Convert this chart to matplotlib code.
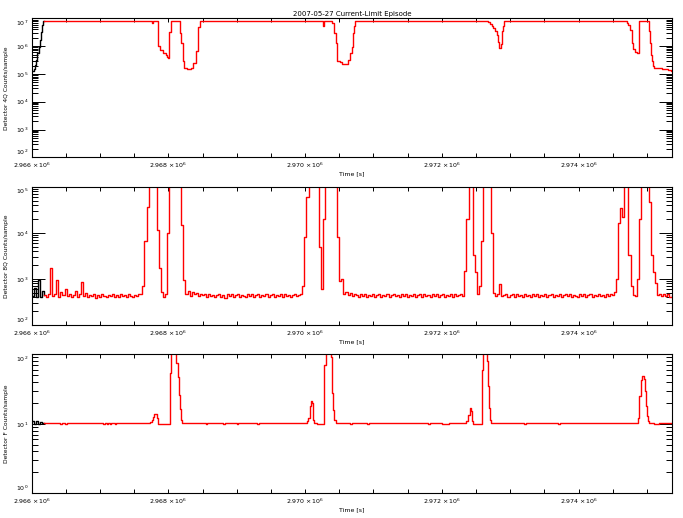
import numpy as np
import matplotlib
matplotlib.use('Agg')
import matplotlib.pyplot as plt
from matplotlib.ticker import MultipleLocator, FuncFormatter, LogLocator, NullFormatter

T0 = 2966000.0      # left edge of the time axis [s]
T_END = 2975372.0   # right edge of the time axis [s]
SAT = 7.8e6         # saturation level of detector 4Q

# ---- Detector 4Q (top panel), times are seconds after T0 ----
det4q_black_t = [0, 30, 45, 60, 75, 100, 115, 135, 150, 165, 180]
det4q_black_v = [1.3e5, 1.5e5, 2.1e5, 3.2e5, 5.5e5, 9.5e5, 1.7e6, 3.3e6, 5.8e6, SAT, SAT]

det4q_red_t = [180, 1755, 1775, 1843, 1880, 1920, 1960, 1985, 2000, 2010, 2035,
               2170, 2190, 2210, 2230, 2270, 2330, 2360, 2400, 2440, 2460,
               4257, 4280, 4389, 4427, 4448, 4462, 4471, 4510, 4544, 4594, 4632,
               4657, 4682, 4696, 4715, 4730,
               6680, 6705, 6730, 6753, 6778, 6803, 6826, 6841, 6866, 6885, 6900, 6914,
               8705, 8728, 8753, 8778, 8787, 8801, 8826, 8851, 8885, 9036, 9046,
               9061, 9071, 9094, 9109, 9144, 9217, 9266, 9314, 9349, 9372]
det4q_red_v = [SAT, 6.6e6, SAT, 1.0e6, 7.2e5, 5.6e5, 5.0e5, 4.2e5, 3.8e5, 3.3e6, SAT,
               2.9e6, 1.3e6, 2.8e5, 1.7e5, 1.5e5, 1.6e5, 2.5e5, 6.6e5, 5.0e6, SAT,
               5.2e6, SAT, 7.0e6, 2.9e6, 1.3e6, 7.2e5, 2.9e5, 2.6e5, 2.2e5, 2.3e5, 3.2e5,
               5.5e5, 9.6e5, 2.9e6, 5.4e6, SAT,
               7.2e6, 6.4e6, 5.4e6, 4.5e6, 3.6e6, 2.6e6, 1.4e6, 8.9e5, 1.2e6, 3.4e6, 5.4e6, SAT,
               6.8e6, 5.6e6, 3.9e6, 2.6e6, 1.3e6, 7.6e5, 6.3e5, 5.8e5, SAT, 3.6e6, 1.3e6,
               5.0e5, 3.0e5, 2.0e5, 1.7e5, 1.6e5, 1.5e5, 1.45e5, 1.4e5, 1.3e5, 1.3e5]

# ---- Detector 8Q (middle panel), one sample every 30 s from T0 ----
DT8 = 30
det8q_v = [
    430, 620, 400, 950, 410, 560, 440, 410, 470, 1700,
    420, 460, 950, 400, 520, 440, 610, 420, 470, 400,
    450, 560, 410, 470, 850, 430, 490, 400, 450, 420,
    470, 390, 440, 410, 460, 430, 400, 450, 420, 470,
    410, 440, 400, 460, 420, 450, 410, 470, 430, 400,
    450, 420, 460, 480, 700, 6500, 37000, 3e5, 3e5, 3e5,
    3e5, 11500, 1700, 520, 410, 470, 10000, 3e5, 3e5, 3e5,
    3e5, 3e5, 3e5, 15000, 950, 480, 560, 430, 520, 460,
    500, 420, 480, 440, 470, 410, 460, 430, 450, 400,
    440, 470, 410, 450, 390, 460, 420, 480, 400, 440,
    470, 410, 450, 430, 400, 460, 420, 470, 410, 440,
    460, 400, 450, 420, 480, 410, 440, 470, 400, 450,
    430, 460, 410, 470, 420, 450, 400, 440, 470, 420,
    450, 480, 700, 8000, 60000, 3e5, 3e5, 3e5, 3e5, 3e5,
    5000, 600, 20000, 3e5, 3e5, 3e5, 3e5, 3e5, 3e5, 8000,
    900, 1000, 480, 530, 440, 500, 420, 470, 450, 410,
    460, 430, 480, 400, 450, 420, 470, 410, 440, 460,
    400, 450, 430, 470, 410, 440, 480, 420, 450, 400,
    460, 430, 470, 410, 450, 420, 480, 400, 440, 460,
    410, 470, 430, 450, 400, 460, 420, 480, 410, 440,
    470, 400, 450, 430, 460, 410, 480, 420, 440, 460,
    430, 1500, 20000, 3e5, 3e5, 3300, 1400, 460, 700, 6500,
    3e5, 3e5, 3e5, 3e5, 10000, 500, 430, 470, 760, 420,
    450, 480, 410, 440, 470, 400, 460, 430, 450, 410,
    470, 420, 440, 400, 460, 430, 480, 410, 450, 420,
    460, 400, 440, 470, 410, 450, 430, 480, 400, 440,
    460, 420, 470, 410, 450, 430, 400, 460, 420, 470,
    410, 440, 460, 400, 450, 430, 470, 420, 440, 410,
    460, 430, 480, 450, 520, 1000, 16000, 35000, 22000, 3e5,
    3e5, 3300, 700, 440, 420, 1000, 20000, 3e5, 3e5, 3e5,
    3e5, 47000, 3300, 1400, 800, 450, 480, 420, 460, 430,
    470, 410, 450, 440]
N_BLACK8 = 7  # first samples drawn in black

# ---- Detector F (bottom panel), times are seconds after T0 ----
detf_black_t = [0, 30, 60, 90, 120, 150, 180]
detf_black_v = [10.8, 10.0, 10.9, 10.1, 10.7, 10.2, 10.4]

detf_red_t = [180, 415, 445, 490, 520, 1045, 1070, 1100, 1120, 1145, 1160, 1220, 1240,
              1731, 1756, 1779, 1794, 1814, 1829, 1843, 1852,
              2023, 2038, 2111, 2136, 2155, 2170, 2184, 2199,
              2550, 2570, 2800, 2830, 3000, 3020, 3300, 3320,
              4023, 4047, 4072, 4091, 4106, 4116, 4130, 4169,
              4281, 4301, 4379, 4389, 4413, 4428, 4452,
              4650, 4680, 4900, 4930, 5800, 5830, 6000, 6100,
              6360, 6383, 6405, 6420, 6435, 6450,
              6590, 6605, 6660, 6675, 6690, 6705, 6719,
              7200, 7230, 7700, 7730,
              8870, 8890, 8910, 8930, 8955, 8970, 8985, 9000, 9015, 9030,
              9100, 9180, 9372]
detf_red_v = [10.4, 9.9, 10.4, 9.9, 10.4, 9.9, 10.4, 9.9, 10.4, 9.9, 10.4, 9.9, 10.4,
              10.6, 11.2, 12.6, 14.0, 13.8, 12.0, 10.4, 9.8,
              54, 300, 74, 47, 26, 16.6, 11.2, 10.4,
              9.9, 10.4, 9.9, 10.4, 9.9, 10.4, 9.9, 10.4,
              10.8, 12.0, 17.8, 21.0, 20.0, 11.2, 10.2, 9.9,
              70, 300, 93, 27.5, 15.8, 11.2, 10.4,
              9.9, 10.4, 9.9, 10.4, 9.9, 10.4, 9.9, 10.4,
              11.0, 13.5, 17.0, 15.5, 11.0, 9.9,
              60, 300, 80, 35, 17, 11.5, 10.4,
              9.9, 10.4, 9.9, 10.4,
              12, 25, 42, 49, 44, 30, 18, 13, 11, 10.4,
              9.9, 10.4, 10.4]


def style_axis(ax, ylo, yhi, ylabel):
    ax.set_yscale('log')
    ax.set_xlim(T0, T_END)
    ax.set_ylim(ylo, yhi)
    ax.xaxis.set_major_locator(MultipleLocator(2000))
    ax.xaxis.set_minor_locator(MultipleLocator(500))
    ax.xaxis.set_major_formatter(FuncFormatter(lambda x, pos: r'$%.3f\times10^{6}$' % (x / 1e6)))
    ax.yaxis.set_major_locator(LogLocator(base=10, numticks=20))
    ax.yaxis.set_minor_locator(LogLocator(base=10, subs=np.arange(2, 10), numticks=20))
    ax.yaxis.set_minor_formatter(NullFormatter())
    ax.tick_params(which='both', direction='in', top=True, right=True, labelsize=4.5, width=0.7)
    ax.tick_params(axis='x', which='both', length=3, pad=2.5)
    ax.tick_params(axis='y', which='major', length=9.5, pad=2.5)
    ax.tick_params(axis='y', which='minor', length=4.5)
    for s in ax.spines.values():
        s.set_linewidth(0.8)
    ax.set_xlabel('Time [s]', fontsize=4.5, labelpad=1)
    ax.set_ylabel(ylabel, fontsize=4.3, labelpad=5)


def nudge_end_labels(ax, ylo, yhi):
    # keep the corner labels clear of the time labels, like the original
    for tick in ax.yaxis.get_major_ticks():
        loc = tick.get_loc()
        if np.isclose(loc, ylo):
            tick.label1.set_va('bottom')
        elif np.isclose(loc, yhi):
            tick.label1.set_va('top')


plt.rcParams['mathtext.default'] = 'regular'
fig = plt.figure(figsize=(6.83, 5.18), dpi=100)

ax1 = fig.add_axes([0.0464, 0.6963, 0.938, 0.2683])
ax2 = fig.add_axes([0.0464, 0.3726, 0.938, 0.2670])
ax3 = fig.add_axes([0.0464, 0.0477, 0.938, 0.2683])

# top panel
ax1.plot(T0 + np.array(det4q_black_t), det4q_black_v, color='k', lw=1.0, drawstyle='steps-post')
ax1.plot(T0 + np.array(det4q_red_t), det4q_red_v, color='#ff0000', lw=1.0, drawstyle='steps-post')
style_axis(ax1, 1e2, 1e7, 'Detector 4Q Counts/sample')
ax1.set_title('2007-05-27 Current-Limit Episode', fontsize=5, pad=2)

# middle panel
t8 = T0 + DT8 * np.arange(len(det8q_v))
v8 = np.array(det8q_v, dtype=float)
ax2.plot(t8[:N_BLACK8], v8[:N_BLACK8], color='k', lw=1.0, drawstyle='steps-post')
ax2.plot(t8[N_BLACK8 - 1:], v8[N_BLACK8 - 1:], color='#ff0000', lw=1.0, drawstyle='steps-post')
style_axis(ax2, 1e2, 1e5, 'Detector 8Q Counts/sample')

# bottom panel
ax3.plot(T0 + np.array(detf_black_t), detf_black_v, color='k', lw=1.0, drawstyle='steps-post')
ax3.plot(T0 + np.array(detf_red_t), detf_red_v, color='#ff0000', lw=1.0, drawstyle='steps-post')
style_axis(ax3, 1e0, 1e2, 'Detector F Counts/sample')

fig.canvas.draw()
nudge_end_labels(ax1, 1e2, 1e7)
nudge_end_labels(ax2, 1e2, 1e5)
nudge_end_labels(ax3, 1e0, 1e2)

fig.savefig('out.png', dpi=100)
